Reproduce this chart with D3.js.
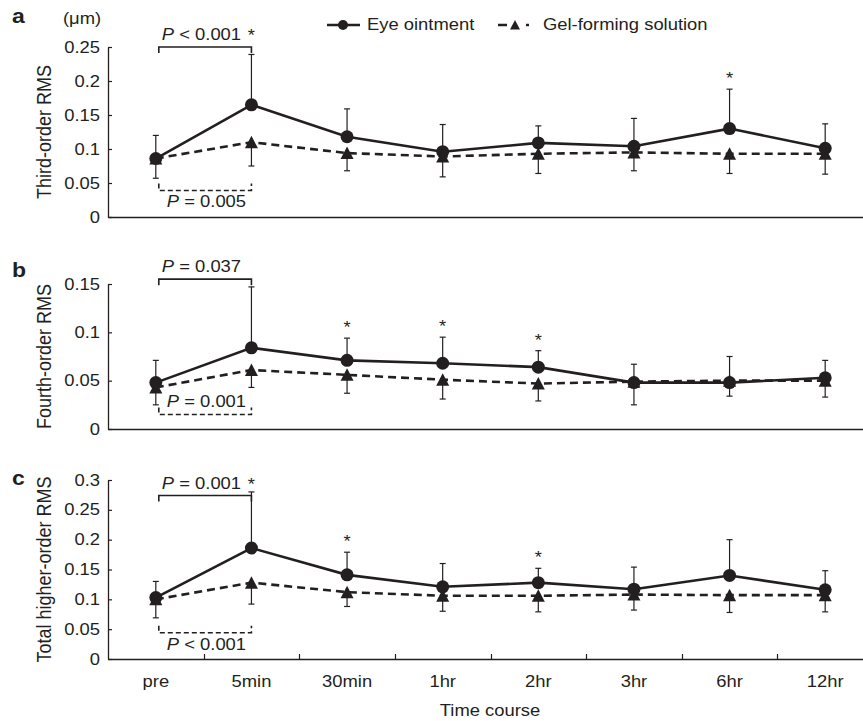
<!DOCTYPE html>
<html>
<head>
<meta charset="utf-8">
<script src="https://cdn.jsdelivr.net/npm/d3@7/dist/d3.min.js"></script>
<style>
  body { margin: 0; background: #fff; }
  text { font-family: "Liberation Sans", Arial, sans-serif; fill: #231f20; }
</style>
</head>
<body>
<script>
// time points on the x axis
var categories = ["pre", "5min", "30min", "1hr", "2hr", "3hr", "6hr", "12hr"];

// a: third-order RMS (um)
var thirdEye      = [0.086, 0.165, 0.118, 0.096, 0.109, 0.104, 0.130, 0.101];
var thirdEyeUpper = [0.120, 0.239, 0.159, 0.136, 0.134, 0.145, 0.188, 0.137];
var thirdGel      = [0.086, 0.110, 0.094, 0.089, 0.093, 0.095, 0.093, 0.093];
var thirdGelLower = [0.057, 0.075, 0.068, 0.059, 0.064, 0.068, 0.064, 0.063];

// b: fourth-order RMS
var fourthEye      = [0.048, 0.084, 0.071, 0.068, 0.064, 0.048, 0.048, 0.053];
var fourthEyeUpper = [0.071, 0.147, 0.094, 0.095, 0.081, 0.067, 0.075, 0.071];
var fourthGel      = [0.043, 0.061, 0.056, 0.051, 0.047, 0.049, 0.050, 0.050];
var fourthGelLower = [0.025, 0.043, 0.037, 0.031, 0.029, 0.025, 0.034, 0.033];

// c: total higher-order RMS
var totalEye      = [0.103, 0.186, 0.141, 0.121, 0.128, 0.117, 0.140, 0.116];
var totalEyeUpper = [0.130, 0.280, 0.179, 0.160, 0.152, 0.154, 0.200, 0.148];
var totalGel      = [0.100, 0.128, 0.112, 0.106, 0.106, 0.108, 0.107, 0.107];
var totalGelLower = [0.069, 0.092, 0.088, 0.080, 0.079, 0.082, 0.078, 0.079];

// y ticks
var ticksA = [0, 0.05, 0.1, 0.15, 0.2, 0.25];
var ticksB = [0, 0.05, 0.1, 0.15];
var ticksC = [0, 0.05, 0.1, 0.15, 0.2, 0.25, 0.3];

// significance marks (*) over eye ointment
var starsA = ["6hr"];
var starsB = ["30min", "1hr", "2hr"];
var starsC = ["30min", "2hr"];

// pre vs 5min comparisons: [eye ointment, gel-forming]
var pValuesA = [["<", "0.001"], ["=", "0.005"]];
var pValuesB = [["=", "0.037"], ["=", "0.001"]];
var pValuesC = [["=", "0.001"], ["<", "0.001"]];
var bracketLevelsA = [0.25, 0.039];
var bracketLevelsB = [0.155, 0.015];
var bracketLevelsC = [0.274, 0.044];

var width = 863,
    height = 721,
    SX = 1.15,   // the original type is a bit wide
    ink = "#231f20";

var svg = d3.select("body").append("svg")
    .attr("width", width)
    .attr("height", height)
    .style("background", "#fff");

var x = d3.scaleBand().domain(categories).range([108, 873]);
function cx(c) { return x(c) + x.bandwidth() / 2; }

function label(g, str, px, py, size, anchor) {
  return g.append("text")
    .attr("transform", "translate(" + px + "," + py + ") scale(" + SX + ",1)")
    .attr("text-anchor", anchor || "start")
    .style("font-size", size + "px")
    .text(str);
}

function pLabel(g, pv, px, py) {
  var t = g.append("text")
    .attr("transform", "translate(" + px + "," + py + ") scale(" + SX + ",1)")
    .style("font-size", "16px");
  t.append("tspan").style("font-style", "italic").text("P");
  t.append("tspan").text(" " + pv[0] + " " + pv[1]);
  return t;
}

function triangle(s) {
  return "M0," + (-s) + "L" + s + "," + (s - 0.5) + "L" + (-s) + "," + (s - 0.5) + "Z";
}

var fmt = function(d) { return d === 0 ? "0" : String(+d.toFixed(2)); };

var panels = [
  { letter: "a", title: "Third-order RMS", top: 47, bottom: 217, max: 0.25, ticks: ticksA,
    eye: thirdEye, eyeUp: thirdEyeUpper, gel: thirdGel, gelLo: thirdGelLower,
    stars: starsA, pv: pValuesA, levels: bracketLevelsA, inside: false, bracketStar: true, letterY: 23 },
  { letter: "b", title: "Fourth-order RMS", top: 284, bottom: 429, max: 0.15, ticks: ticksB,
    eye: fourthEye, eyeUp: fourthEyeUpper, gel: fourthGel, gelLo: fourthGelLower,
    stars: starsB, pv: pValuesB, levels: bracketLevelsB, inside: true, bracketStar: false, letterY: 277 },
  { letter: "c", title: "Total higher-order RMS", top: 480, bottom: 659, max: 0.3, ticks: ticksC,
    eye: totalEye, eyeUp: totalEyeUpper, gel: totalGel, gelLo: totalGelLower,
    stars: starsC, pv: pValuesC, levels: bracketLevelsC, inside: false, bracketStar: true, letterY: 485 }
];

panels.forEach(function(p, i) {
  var y = d3.scaleLinear().domain([0, p.max]).range([p.bottom, p.top]);
  var g = svg.append("g");

  // y axis, ticks pointing inward
  var ya = g.append("g")
      .attr("transform", "translate(108,0)")
      .attr("color", ink)
      .call(d3.axisLeft(y).tickValues(p.ticks).tickFormat(fmt)
        .tickSizeInner(-4).tickSizeOuter(0).tickPadding(8))
      .attr("font-family", null)
      .attr("font-size", 16);
  ya.select(".domain").attr("stroke-width", 1.3);
  ya.selectAll(".tick line").attr("stroke-width", 1.2);
  ya.selectAll(".tick text")
      .attr("x", null)
      .attr("transform", "translate(-8,0) scale(" + SX + ",1)");

  // x axis
  var xa = g.append("g")
      .attr("transform", "translate(0," + p.bottom + ")")
      .attr("color", ink);
  if (i === 2) {
    xa.call(d3.axisBottom(x).tickSize(0).tickPadding(17));
    xa.selectAll(".tick text")
        .attr("y", 0)
        .attr("transform", "translate(0,17) scale(" + SX + ",1)");
    xa.selectAll(".bound").data(categories.slice(1)).enter().append("line")
        .attr("x1", function(d) { return Math.round(x(d)) + 0.5; })
        .attr("x2", function(d) { return Math.round(x(d)) + 0.5; })
        .attr("y1", 0).attr("y2", -5)
        .attr("stroke", ink).attr("stroke-width", 1.2);
  } else {
    xa.call(d3.axisBottom(x).tickValues([]).tickSizeOuter(0));
  }
  xa.attr("font-family", null).attr("font-size", 16);
  xa.select(".domain").attr("stroke-width", 1.3);

  // panel letter and axis title
  g.append("text")
      .attr("transform", "translate(12," + p.letterY + ") scale(" + SX + ",1)")
      .style("font-size", "20px").style("font-weight", "bold")
      .text(p.letter);
  g.append("text")
      .attr("transform", "translate(51," + ((p.top + p.bottom) / 2) + ") scale(" + SX + ",1) rotate(-90)")
      .attr("text-anchor", "middle")
      .style("font-size", "18px")
      .text(p.title);

  var line = d3.line()
      .x(function(d, j) { return cx(categories[j]); })
      .y(function(d) { return y(d); });

  g.append("path").attr("d", line(p.gel))
      .attr("fill", "none").attr("stroke", ink).attr("stroke-width", 2.6)
      .attr("stroke-dasharray", "8,5");
  g.append("path").attr("d", line(p.eye))
      .attr("fill", "none").attr("stroke", ink).attr("stroke-width", 2.6);

  // error bars: eye ointment upward, gel-forming downward
  categories.forEach(function(c, j) {
    var xc = cx(c);
    [[p.eye[j], p.eyeUp[j]], [p.gel[j], p.gelLo[j]]].forEach(function(e) {
      g.append("line")
          .attr("x1", xc).attr("x2", xc)
          .attr("y1", y(e[0])).attr("y2", y(e[1]))
          .attr("stroke", ink).attr("stroke-width", 1.2);
      g.append("line")
          .attr("x1", xc - 3).attr("x2", xc + 3)
          .attr("y1", y(e[1])).attr("y2", y(e[1]))
          .attr("stroke", ink).attr("stroke-width", 1.2);
    });
  });

  g.selectAll(".tri").data(p.gel).enter().append("path")
      .attr("transform", function(d, j) { return "translate(" + cx(categories[j]) + "," + y(d) + ")"; })
      .attr("d", triangle(6.5))
      .attr("fill", ink);
  g.selectAll(".dot").data(p.eye).enter().append("circle")
      .attr("cx", function(d, j) { return cx(categories[j]); })
      .attr("cy", function(d) { return y(d); })
      .attr("r", 6.5)
      .attr("fill", ink);

  // stars
  p.stars.forEach(function(c) {
    var j = categories.indexOf(c);
    label(g, "*", cx(c), y(p.eyeUp[j]) - 5, 16, "middle");
  });

  // brackets pre vs 5min
  var x0 = cx("pre") + 3, x1 = cx("5min");
  var yb = y(p.levels[0]), yd = y(p.levels[1]);
  g.append("path")
      .attr("d", "M" + x0 + "," + (yb + 6) + "V" + yb + "H" + x1 + "V" + (yb + 6))
      .attr("fill", "none").attr("stroke", ink).attr("stroke-width", 1.6);
  pLabel(g, p.pv[0], cx("pre") + 6, yb - 7);
  if (p.bracketStar) label(g, "*", x1, yb - 6, 16, "middle");

  g.append("path")
      .attr("d", "M" + x0 + "," + (yd - 7) + "V" + yd + "H" + x1 + "V" + (yd - 7))
      .attr("fill", "none").attr("stroke", ink).attr("stroke-width", 1.6)
      .attr("stroke-dasharray", "5,3");
  pLabel(g, p.pv[1], cx("pre") + 11, p.inside ? yd - 8 : yd + 17);
});

// unit
label(svg, "(\u03bcm)", 63, 24, 16);

// legend
var lg = svg.append("g");
lg.append("line").attr("x1", 327).attr("x2", 360).attr("y1", 25).attr("y2", 25)
    .attr("stroke", ink).attr("stroke-width", 2.6);
lg.append("circle").attr("cx", 343).attr("cy", 25).attr("r", 5).attr("fill", ink);
label(lg, "Eye ointment", 367, 30, 16);
lg.append("path").attr("d", "M498,25H531")
    .attr("stroke", ink).attr("stroke-width", 2.6)
    .attr("stroke-dasharray", "9,19,3,100");
lg.append("path").attr("transform", "translate(515,25)").attr("d", triangle(5)).attr("fill", ink);
label(lg, "Gel-forming solution", 543, 30, 16);

// x title
label(svg, "Time course", 490, 716, 16, "middle");
</script>
</body>
</html>
